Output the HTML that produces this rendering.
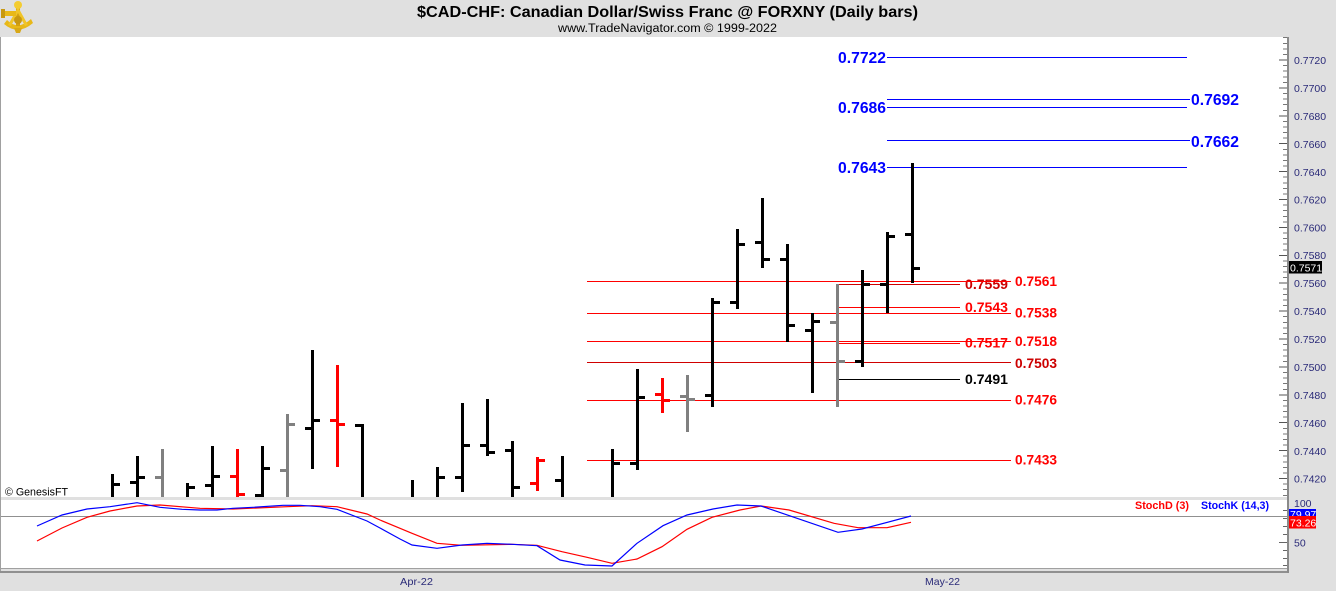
<!DOCTYPE html>
<html><head><meta charset="utf-8"><style>
html,body{margin:0;padding:0;background:#e0e0e0;}
body{width:1336px;height:591px;overflow:hidden;}
svg{display:block;}
text{font-family:"Liberation Sans",Arial,sans-serif;}
</style></head><body>
<svg width="1336" height="591" viewBox="0 0 1336 591" xmlns="http://www.w3.org/2000/svg">
<defs>
<clipPath id="pp"><rect x="1" y="37" width="1286" height="460"/></clipPath>
<clipPath id="sp"><rect x="1" y="500" width="1286" height="68"/></clipPath>
</defs>
<!-- backgrounds -->
<rect x="0" y="0" width="1336" height="591" fill="#e0e0e0"/>
<rect x="1" y="37" width="1286" height="460" fill="#ffffff"/>
<rect x="1" y="500" width="1286" height="68" fill="#ffffff"/>
<rect x="0" y="37" width="1" height="536" fill="#a0a0a0"/>
<rect x="0" y="568" width="1288" height="1" fill="#a0a0a0"/>
<rect x="0" y="571" width="1289" height="2" fill="#909090"/>
<rect x="1287" y="37" width="2" height="536" fill="#8a8a8a"/>

<!-- logo -->
<g>
<path d="M4 24 Q18 36 33 23 L31 19 Q18 31 7 20 Z" fill="#e8b818"/>
<path d="M16 3 L20 3 L20 26 L16 26 Z" fill="#d4a010"/>
<path d="M18 7 L8 25 L11 26 L18 13 L25 26 L28 25 Z" fill="#f0c428"/>
<rect x="4" y="11" width="12" height="5" fill="#e8b818"/>
<rect x="1" y="9" width="4" height="9" fill="#c89810"/>
<circle cx="18" cy="5" r="4" fill="#f4cc30"/>
<circle cx="18" cy="20" r="4" fill="#c89810"/>
<path d="M14 28 L22 28 L20 33 L16 33 Z" fill="#d8a818"/>
</g>

<!-- title -->
<text x="417" y="17" font-size="16" font-weight="bold" fill="#000" textLength="501" lengthAdjust="spacingAndGlyphs">$CAD-CHF:  Canadian Dollar/Swiss Franc @ FORXNY  (Daily bars)</text>
<text x="558" y="32" font-size="11.5" fill="#000" textLength="219" lengthAdjust="spacingAndGlyphs">www.TradeNavigator.com © 1999-2022</text>

<!-- right axis ticks price -->
<g fill="#555" shape-rendering="crispEdges">
<rect x="1279" y="59.5" width="8" height="1"/>
<rect x="1279" y="87.4" width="8" height="1"/>
<rect x="1279" y="115.3" width="8" height="1"/>
<rect x="1279" y="143.2" width="8" height="1"/>
<rect x="1279" y="171.1" width="8" height="1"/>
<rect x="1279" y="199" width="8" height="1"/>
<rect x="1279" y="226.9" width="8" height="1"/>
<rect x="1279" y="254.8" width="8" height="1"/>
<rect x="1279" y="282.7" width="8" height="1"/>
<rect x="1279" y="310.6" width="8" height="1"/>
<rect x="1279" y="338.5" width="8" height="1"/>
<rect x="1279" y="366.4" width="8" height="1"/>
<rect x="1279" y="394.3" width="8" height="1"/>
<rect x="1279" y="422.2" width="8" height="1"/>
<rect x="1279" y="450.1" width="8" height="1"/>
<rect x="1279" y="478" width="8" height="1"/>
</g>
<g fill="#777" shape-rendering="crispEdges">
<rect x="1283" y="37.2" width="4" height="1"/><rect x="1283" y="42.8" width="4" height="1"/><rect x="1283" y="48.4" width="4" height="1"/><rect x="1283" y="54" width="4" height="1"/>
<rect x="1283" y="65.1" width="4" height="1"/><rect x="1283" y="70.7" width="4" height="1"/><rect x="1283" y="76.3" width="4" height="1"/><rect x="1283" y="81.9" width="4" height="1"/>
<rect x="1283" y="93" width="4" height="1"/><rect x="1283" y="98.6" width="4" height="1"/><rect x="1283" y="104.2" width="4" height="1"/><rect x="1283" y="109.8" width="4" height="1"/>
<rect x="1283" y="120.9" width="4" height="1"/><rect x="1283" y="126.5" width="4" height="1"/><rect x="1283" y="132.1" width="4" height="1"/><rect x="1283" y="137.7" width="4" height="1"/>
<rect x="1283" y="148.8" width="4" height="1"/><rect x="1283" y="154.4" width="4" height="1"/><rect x="1283" y="160" width="4" height="1"/><rect x="1283" y="165.6" width="4" height="1"/>
<rect x="1283" y="176.7" width="4" height="1"/><rect x="1283" y="182.3" width="4" height="1"/><rect x="1283" y="187.9" width="4" height="1"/><rect x="1283" y="193.5" width="4" height="1"/>
<rect x="1283" y="204.6" width="4" height="1"/><rect x="1283" y="210.2" width="4" height="1"/><rect x="1283" y="215.8" width="4" height="1"/><rect x="1283" y="221.4" width="4" height="1"/>
<rect x="1283" y="232.5" width="4" height="1"/><rect x="1283" y="238.1" width="4" height="1"/><rect x="1283" y="243.7" width="4" height="1"/><rect x="1283" y="249.3" width="4" height="1"/>
<rect x="1283" y="260.4" width="4" height="1"/><rect x="1283" y="266" width="4" height="1"/><rect x="1283" y="271.6" width="4" height="1"/><rect x="1283" y="277.2" width="4" height="1"/>
<rect x="1283" y="288.3" width="4" height="1"/><rect x="1283" y="293.9" width="4" height="1"/><rect x="1283" y="299.5" width="4" height="1"/><rect x="1283" y="305.1" width="4" height="1"/>
<rect x="1283" y="316.2" width="4" height="1"/><rect x="1283" y="321.8" width="4" height="1"/><rect x="1283" y="327.4" width="4" height="1"/><rect x="1283" y="333" width="4" height="1"/>
<rect x="1283" y="344.1" width="4" height="1"/><rect x="1283" y="349.7" width="4" height="1"/><rect x="1283" y="355.3" width="4" height="1"/><rect x="1283" y="360.9" width="4" height="1"/>
<rect x="1283" y="372" width="4" height="1"/><rect x="1283" y="377.6" width="4" height="1"/><rect x="1283" y="383.2" width="4" height="1"/><rect x="1283" y="388.8" width="4" height="1"/>
<rect x="1283" y="399.9" width="4" height="1"/><rect x="1283" y="405.5" width="4" height="1"/><rect x="1283" y="411.1" width="4" height="1"/><rect x="1283" y="416.7" width="4" height="1"/>
<rect x="1283" y="427.8" width="4" height="1"/><rect x="1283" y="433.4" width="4" height="1"/><rect x="1283" y="439" width="4" height="1"/><rect x="1283" y="444.6" width="4" height="1"/>
<rect x="1283" y="455.7" width="4" height="1"/><rect x="1283" y="461.3" width="4" height="1"/><rect x="1283" y="466.9" width="4" height="1"/><rect x="1283" y="472.5" width="4" height="1"/>
<rect x="1283" y="483.6" width="4" height="1"/><rect x="1283" y="489.2" width="4" height="1"/><rect x="1283" y="494.8" width="4" height="1"/>
</g>
<g font-size="10.5" fill="#2a2a78">
<text x="1294" y="64">0.7720</text>
<text x="1294" y="92">0.7700</text>
<text x="1294" y="120">0.7680</text>
<text x="1294" y="148">0.7660</text>
<text x="1294" y="176">0.7640</text>
<text x="1294" y="203.5">0.7620</text>
<text x="1294" y="231.5">0.7600</text>
<text x="1294" y="259">0.7580</text>
<text x="1294" y="287">0.7560</text>
<text x="1294" y="315">0.7540</text>
<text x="1294" y="343">0.7520</text>
<text x="1294" y="371">0.7500</text>
<text x="1294" y="399">0.7480</text>
<text x="1294" y="427">0.7460</text>
<text x="1294" y="455">0.7440</text>
<text x="1294" y="482.5">0.7420</text>
</g>
<!-- price box -->
<rect x="1289" y="261" width="33" height="12.5" fill="#000"/>
<text x="1290" y="271.5" font-size="10.5" fill="#fff">0.7571</text>

<!-- stoch axis -->
<g fill="#666" shape-rendering="crispEdges">
<rect x="1279" y="542" width="8" height="1"/>
<rect x="1283" y="510" width="4" height="1"/><rect x="1283" y="518" width="4" height="1"/><rect x="1283" y="526" width="4" height="1"/><rect x="1283" y="534" width="4" height="1"/>
<rect x="1283" y="550" width="4" height="1"/><rect x="1283" y="558" width="4" height="1"/><rect x="1283" y="565" width="4" height="1"/>
</g>
<text x="1294" y="507" font-size="10.5" fill="#2a2a78">100</text>
<text x="1294" y="546.5" font-size="10.5" fill="#2a2a78">50</text>
<rect x="1289" y="509" width="27" height="8" fill="#0000ff"/>
<text x="1290" y="518" font-size="10.5" fill="#fff">79.97</text>
<rect x="1289" y="516" width="27" height="12.5" fill="#ff0000"/>
<text x="1290" y="526.5" font-size="10.5" fill="#fff">73.26</text>

<!-- x axis labels -->
<text x="400" y="585" font-size="10.5" fill="#2a2a78" textLength="33" lengthAdjust="spacingAndGlyphs">Apr-22</text>
<text x="925" y="585" font-size="10.5" fill="#2a2a78" textLength="35" lengthAdjust="spacingAndGlyphs">May-22</text>

<!-- price panel content -->
<g clip-path="url(#pp)">
<g shape-rendering="crispEdges" stroke-width="1" fill="none">
<!-- blue lines -->
<line x1="887" y1="57.5" x2="1187" y2="57.5" stroke="#0000ff"/>
<line x1="887" y1="99.5" x2="1190" y2="99.5" stroke="#0000ff"/>
<line x1="887" y1="107.5" x2="1187" y2="107.5" stroke="#0000ff"/>
<line x1="887" y1="140.5" x2="1190" y2="140.5" stroke="#0000ff"/>
<line x1="887" y1="167.5" x2="1187" y2="167.5" stroke="#0000ff"/>
<!-- long red lines -->
<line x1="587" y1="281.5" x2="1011" y2="281.5" stroke="#ff0000"/>
<line x1="587" y1="313.5" x2="1011" y2="313.5" stroke="#ff0000"/>
<line x1="587" y1="341.5" x2="1011" y2="341.5" stroke="#ff0000"/>
<line x1="587" y1="362.5" x2="1011" y2="362.5" stroke="#d00000"/>
<line x1="587" y1="400.5" x2="1011" y2="400.5" stroke="#ff0000"/>
<line x1="587" y1="460.5" x2="1011" y2="460.5" stroke="#ff0000"/>
<!-- short lines -->
<line x1="838" y1="284.5" x2="960" y2="284.5" stroke="#d00000"/>
<line x1="838" y1="307.5" x2="960" y2="307.5" stroke="#ff0000"/>
<line x1="838" y1="343.5" x2="960" y2="343.5" stroke="#ff0000"/>
<line x1="838" y1="379.5" x2="960" y2="379.5" stroke="#000000"/>
</g>

<!-- bars -->
<g shape-rendering="crispEdges" fill="#000">
<rect x="111" y="474" width="3" height="26"/><rect x="114" y="483" width="6" height="3"/>
<rect x="136" y="456" width="3" height="44"/><rect x="130" y="481" width="6" height="3"/><rect x="139" y="476" width="6" height="3"/>
<rect x="186" y="483" width="3" height="17"/><rect x="189" y="486" width="6" height="3"/>
<rect x="211" y="446" width="3" height="54"/><rect x="205" y="484" width="6" height="3"/><rect x="214" y="475" width="6" height="3"/>
<rect x="261" y="446" width="3" height="54"/><rect x="255" y="494" width="6" height="3"/><rect x="264" y="467" width="6" height="3"/>
<rect x="311" y="350" width="3" height="119"/><rect x="305" y="427" width="6" height="3"/><rect x="314" y="419" width="6" height="3"/>
<rect x="361" y="424" width="3" height="76"/><rect x="355" y="424" width="6" height="3"/>
<rect x="411" y="480" width="3" height="20"/>
<rect x="436" y="467" width="3" height="33"/><rect x="439" y="476" width="6" height="3"/>
<rect x="461" y="403" width="3" height="89"/><rect x="455" y="476" width="6" height="3"/><rect x="464" y="444" width="6" height="3"/>
<rect x="486" y="399" width="3" height="57"/><rect x="480" y="444" width="6" height="3"/><rect x="489" y="451" width="6" height="3"/>
<rect x="511" y="441" width="3" height="59"/><rect x="505" y="449" width="6" height="3"/><rect x="514" y="486" width="6" height="3"/>
<rect x="561" y="456" width="3" height="44"/><rect x="555" y="479" width="6" height="3"/>
<rect x="611" y="449" width="3" height="51"/><rect x="614" y="462" width="6" height="3"/>
<rect x="636" y="369" width="3" height="101"/><rect x="630" y="462" width="6" height="3"/><rect x="639" y="396" width="6" height="3"/>
<rect x="711" y="298" width="3" height="109"/><rect x="705" y="394" width="6" height="3"/><rect x="714" y="301" width="6" height="3"/>
<rect x="736" y="229" width="3" height="80"/><rect x="730" y="301" width="6" height="3"/><rect x="739" y="243" width="6" height="3"/>
<rect x="761" y="198" width="3" height="70"/><rect x="755" y="241" width="6" height="3"/><rect x="764" y="258" width="6" height="3"/>
<rect x="786" y="244" width="3" height="98"/><rect x="780" y="258" width="6" height="3"/><rect x="789" y="324" width="6" height="3"/>
<rect x="811" y="313" width="3" height="80"/><rect x="805" y="329" width="6" height="3"/><rect x="814" y="320" width="6" height="3"/>
<rect x="861" y="270" width="3" height="97"/><rect x="855" y="360" width="6" height="3"/><rect x="864" y="283" width="6" height="3"/>
<rect x="886" y="232" width="3" height="81"/><rect x="880" y="283" width="6" height="3"/><rect x="889" y="235" width="6" height="3"/>
<rect x="911" y="163" width="3" height="120"/><rect x="905" y="233" width="6" height="3"/><rect x="914" y="267" width="6" height="3"/>
</g>
<g shape-rendering="crispEdges" fill="#808080">
<rect x="161" y="449" width="3" height="51"/><rect x="155" y="476" width="6" height="3"/>
<rect x="286" y="414" width="3" height="86"/><rect x="280" y="469" width="6" height="3"/><rect x="289" y="423" width="6" height="3"/>
<rect x="686" y="375" width="3" height="57"/><rect x="680" y="395" width="6" height="3"/><rect x="689" y="398" width="6" height="3"/>
<rect x="836" y="284" width="3" height="123"/><rect x="830" y="321" width="6" height="3"/><rect x="839" y="360" width="6" height="3"/>
</g>
<g shape-rendering="crispEdges" fill="#ff0000">
<rect x="236" y="449" width="3" height="51"/><rect x="230" y="475" width="6" height="3"/><rect x="239" y="493" width="6" height="3"/>
<rect x="336" y="365" width="3" height="102"/><rect x="330" y="419" width="6" height="3"/><rect x="339" y="423" width="6" height="3"/>
<rect x="536" y="457" width="3" height="34"/><rect x="530" y="482" width="6" height="3"/><rect x="539" y="459" width="6" height="3"/>
<rect x="661" y="378" width="3" height="35"/><rect x="655" y="393" width="6" height="3"/><rect x="664" y="399" width="6" height="3"/>
</g>

<!-- labels -->
<g font-size="16" font-weight="bold" fill="#0000ff">
<text x="838" y="63" textLength="48" lengthAdjust="spacingAndGlyphs">0.7722</text>
<text x="838" y="113" textLength="48" lengthAdjust="spacingAndGlyphs">0.7686</text>
<text x="838" y="173" textLength="48" lengthAdjust="spacingAndGlyphs">0.7643</text>
<text x="1191" y="105" textLength="48" lengthAdjust="spacingAndGlyphs">0.7692</text>
<text x="1191" y="147" textLength="48" lengthAdjust="spacingAndGlyphs">0.7662</text>
</g>
<g font-size="14" font-weight="bold" fill="#ff0000">
<text x="1015" y="286" textLength="42" lengthAdjust="spacingAndGlyphs">0.7561</text>
<text x="1015" y="317.5" textLength="42" lengthAdjust="spacingAndGlyphs">0.7538</text>
<text x="1015" y="346" textLength="42" lengthAdjust="spacingAndGlyphs">0.7518</text>
<text x="1015" y="368" textLength="42" lengthAdjust="spacingAndGlyphs" fill="#cc0000">0.7503</text>
<text x="1015" y="404.5" textLength="42" lengthAdjust="spacingAndGlyphs">0.7476</text>
<text x="1015" y="464.5" textLength="42" lengthAdjust="spacingAndGlyphs">0.7433</text>
<text x="965" y="289" textLength="43" lengthAdjust="spacingAndGlyphs" fill="#cc0000">0.7559</text>
<text x="965" y="312" textLength="43" lengthAdjust="spacingAndGlyphs">0.7543</text>
<text x="965" y="347.5" textLength="43" lengthAdjust="spacingAndGlyphs">0.7517</text>
<text x="965" y="384" textLength="43" lengthAdjust="spacingAndGlyphs" fill="#000">0.7491</text>
</g>
<!-- redraw 0.7561 line through 0.7559 label -->
<line x1="960" y1="281.5" x2="1011" y2="281.5" stroke="#ff0000" stroke-width="1" shape-rendering="crispEdges"/>
<text x="5" y="495.5" font-size="11" fill="#000" textLength="63" lengthAdjust="spacingAndGlyphs">© GenesisFT</text>
</g>

<!-- stoch panel -->
<g clip-path="url(#sp)">
<line x1="1" y1="516.5" x2="1287" y2="516.5" stroke="#909090" stroke-width="1" shape-rendering="crispEdges"/>
<polyline fill="none" stroke="#ff0000" stroke-width="1.2" points="37,541 62,528 87,517.3 110,511 137,506 160,505 200,508.3 233,509 287,506.7 312,505.7 337,506.7 367,514 380,520 400,528.3 412,533.3 437,543.3 462,545.3 512,544.3 537,545.3 562,551.7 587,557.3 612,563.3 637,559 662,546.7 687,529.3 712,517.3 740,510 761,506 789,510 834,523.3 858,527.7 887,527.7 911,522.3"/>
<polyline fill="none" stroke="#0000ff" stroke-width="1.2" points="37,526 62,515 87,509 110,506.7 137,502.7 160,507.3 182,509.3 200,510 217,510 233,508.3 253,507.3 283,505.3 300,505.3 320,506.7 337,509.3 367,521 380,528 400,539 412,545 437,548.3 462,545 487,543.3 512,544.3 537,545.7 560,560 585,565 612,566 637,543.3 663,525.7 687,515 713,509 737,505 761,506 838,532.3 862,529 911,516"/>
<text x="1135" y="509" font-size="11" font-weight="bold" fill="#ff0000" textLength="54" lengthAdjust="spacingAndGlyphs">StochD (3)</text>
<text x="1201" y="509" font-size="11" font-weight="bold" fill="#0000ff" textLength="68" lengthAdjust="spacingAndGlyphs">StochK (14,3)</text>
</g>
</svg>
</body></html>
